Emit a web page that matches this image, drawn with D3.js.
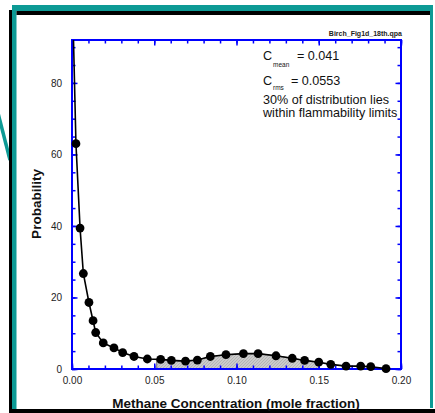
<!DOCTYPE html>
<html>
<head>
<meta charset="utf-8">
<script src="https://cdn.jsdelivr.net/npm/d3@7"></script>
<style>
  body { margin: 0; background: #fff; }
  svg { display: block; font-family: "Liberation Sans", Arial, sans-serif; }
</style>
</head>
<body>
<div id="chart"></div>
<script>
// methane concentration (mole fraction) and probability
var conc = [0.0005, 0.0024, 0.0049, 0.0069, 0.0103, 0.0128, 0.0144, 0.019, 0.0255, 0.0308,
            0.0377, 0.0458, 0.0539, 0.0604, 0.069, 0.0762, 0.0841, 0.0936, 0.1042, 0.1131,
            0.124, 0.1339, 0.1414, 0.15, 0.1573, 0.1666, 0.1755, 0.1816, 0.1909];
var prob = [100, 63.0, 39.4, 26.7, 18.6, 13.5, 10.2, 7.3, 5.9, 4.6,
            3.5, 2.8, 2.7, 2.4, 2.2, 2.5, 3.5, 4.0, 4.3, 4.3,
            3.7, 3.0, 2.4, 1.9, 1.3, 0.8, 0.8, 0.65, 0.1];
var flamLimits = [0.0515, 0.15];
var xTicks = [0, 0.05, 0.10, 0.15, 0.20];
var yTicks = [0, 20, 40, 60, 80];
var xMinor = d3.range(0, 0.2001, 0.01);
var yMinor = d3.range(0, 91, 5);
var notes = ["30% of distribution lies", "within flammability limits"];

var W = 435, H = 413;
var teal = "#0d9a95", blue = "#0000ff";
var m = {left: 72, right: 401, top: 40, bottom: 369};

var svg = d3.select("#chart").append("svg").attr("width", W).attr("height", H);

// slide frame
svg.append("line").attr("x1", -2).attr("y1", 113).attr("x2", 10).attr("y2", 160)
   .style("stroke", teal).style("stroke-width", 3.5);
svg.append("rect").attr("x", 9).attr("y", 10).attr("width", 3).attr("height", 403).attr("fill", "#000");
svg.append("rect").attr("x", 12).attr("y", 5).attr("width", 421).attr("height", 6).attr("fill", teal);
svg.append("rect").attr("x", 12).attr("y", 5).attr("width", 4.5).attr("height", 408).attr("fill", teal);
svg.append("rect").attr("x", 16.5).attr("y", 11).attr("width", 414).attr("height", 4).attr("fill", "#000");
svg.append("rect").attr("x", 430).attr("y", 5).attr("width", 3).attr("height", 403).attr("fill", teal);
svg.append("rect").attr("x", 9).attr("y", 409).attr("width", 426).attr("height", 4).attr("fill", "#000");

var x = d3.scaleLinear().domain([0, 0.2]).range([m.left, m.right]);
var y = d3.scaleLinear().domain([0, 92]).range([m.bottom, m.top]);

var defs = svg.append("defs");
defs.append("clipPath").attr("id", "clip").append("rect")
    .attr("x", m.left).attr("y", m.top).attr("width", m.right - m.left).attr("height", m.bottom - m.top);
var pat = defs.append("pattern").attr("id", "hatch").attr("patternUnits", "userSpaceOnUse")
    .attr("width", 3).attr("height", 3);
pat.append("rect").attr("width", 3).attr("height", 3).attr("fill", "#cbcbcb");
pat.append("path").attr("d", "M0,3 L3,0 M-1,1 L1,-1 M2,4 L4,2").style("stroke", "#a4a4a4").style("stroke-width", 0.6);

var pts = conc.map(function(c, i){ return [c, prob[i]]; });

// shaded area between the flammability limits
function interp(c){
  for (var i = 0; i < pts.length - 1; i++){
    if (pts[i][0] <= c && pts[i+1][0] >= c){
      var t = (c - pts[i][0]) / (pts[i+1][0] - pts[i][0]);
      return pts[i][1] + t * (pts[i+1][1] - pts[i][1]);
    }
  }
  return 0;
}
var areaPts = [[flamLimits[0], interp(flamLimits[0])]]
  .concat(pts.filter(function(p){ return p[0] > flamLimits[0] && p[0] < flamLimits[1]; }))
  .concat([[flamLimits[1], interp(flamLimits[1])]]);
svg.append("path")
   .datum(areaPts)
   .attr("d", d3.area().x(function(d){ return x(d[0]); }).y0(y(0)).y1(function(d){ return y(d[1]); }))
   .attr("fill", "url(#hatch)")
   .style("stroke", "#555").style("stroke-width", 0.8);

// axes, ticks inside on all four sides
function styleAxis(g){
  g.select(".domain").remove();
  g.selectAll(".tick line").style("stroke", blue).style("stroke-width", 1.5);
  g.selectAll(".tick text").style("fill", "#222").style("font-size", "10px")
   .style("font-family", "'Liberation Sans', Arial, sans-serif");
}
var fmtX = d3.format(".2f");
svg.append("g").attr("transform", "translate(0," + m.bottom + ")")
   .call(d3.axisBottom(x).tickValues(xMinor).tickSizeInner(-3.5).tickSizeOuter(0).tickFormat("")).call(styleAxis);
svg.append("g").attr("transform", "translate(0," + m.bottom + ")")
   .call(d3.axisBottom(x).tickValues(xTicks).tickSizeInner(-5.5).tickSizeOuter(0).tickPadding(8).tickFormat(fmtX)).call(styleAxis);
svg.append("g").attr("transform", "translate(0," + m.top + ")")
   .call(d3.axisTop(x).tickValues(xMinor).tickSizeInner(-3.5).tickSizeOuter(0).tickFormat("")).call(styleAxis);
svg.append("g").attr("transform", "translate(0," + m.top + ")")
   .call(d3.axisTop(x).tickValues(xTicks).tickSizeInner(-5.5).tickSizeOuter(0).tickFormat("")).call(styleAxis);
svg.append("g").attr("transform", "translate(" + m.left + ",0)")
   .call(d3.axisLeft(y).tickValues(yMinor).tickSizeInner(-3.5).tickSizeOuter(0).tickFormat("")).call(styleAxis);
svg.append("g").attr("transform", "translate(" + m.left + ",0)")
   .call(d3.axisLeft(y).tickValues(yTicks).tickSizeInner(-5.5).tickSizeOuter(0).tickPadding(10).tickFormat(d3.format("d"))).call(styleAxis);
svg.append("g").attr("transform", "translate(" + m.right + ",0)")
   .call(d3.axisRight(y).tickValues(yMinor).tickSizeInner(-3.5).tickSizeOuter(0).tickFormat("")).call(styleAxis);
svg.append("g").attr("transform", "translate(" + m.right + ",0)")
   .call(d3.axisRight(y).tickValues(yTicks).tickSizeInner(-5.5).tickSizeOuter(0).tickFormat("")).call(styleAxis);

svg.append("rect").attr("x", m.left).attr("y", m.top)
   .attr("width", m.right - m.left).attr("height", m.bottom - m.top)
   .attr("fill", "none").style("stroke", blue).style("stroke-width", 2);

// curve and markers
var plot = svg.append("g").attr("clip-path", "url(#clip)");
plot.append("path")
    .datum(pts)
    .attr("d", d3.line().x(function(d){ return x(d[0]); }).y(function(d){ return y(d[1]); }))
    .attr("fill", "none").style("stroke", "#000").style("stroke-width", 1.6);
svg.selectAll(".dot")
   .data(pts.filter(function(p){ return p[1] <= 92; }))
   .enter().append("circle")
   .attr("class", "dot")
   .attr("cx", function(d){ return x(d[0]); })
   .attr("cy", function(d){ return y(d[1]); })
   .attr("r", 4.4)
   .attr("fill", "#000");

// labels
svg.append("text").attr("x", 236).attr("y", 408).attr("text-anchor", "middle")
   .style("font-weight", "bold").style("font-size", "13.5px").attr("fill", "#111")
   .text("Methane Concentration (mole fraction)");
svg.append("text").attr("transform", "translate(41,204) rotate(-90)").attr("text-anchor", "middle")
   .style("font-weight", "bold").style("font-size", "13.5px").attr("fill", "#111")
   .text("Probability");
svg.append("text").attr("x", 402).attr("y", 35.5).attr("text-anchor", "end")
   .style("font-weight", "bold").style("font-size", "7px").attr("fill", "#222")
   .text("Birch_Fig1d_18th.qpa");

var ann = svg.append("g").attr("fill", "#111").style("font-size", "12.6px");
ann.append("text").attr("x", 263).attr("y", 60).text("C");
ann.append("text").attr("x", 273).attr("y", 67).style("font-size", "6.5px").text("mean");
ann.append("text").attr("x", 297).attr("y", 60).text("= 0.041");
ann.append("text").attr("x", 263).attr("y", 84.5).text("C");
ann.append("text").attr("x", 273).attr("y", 90).style("font-size", "6.5px").text("rms");
ann.append("text").attr("x", 291).attr("y", 84.5).text("= 0.0553");
ann.selectAll(".note").data(notes).enter().append("text")
   .attr("class", "note")
   .attr("x", 263)
   .attr("y", function(d, i){ return 104 + i * 13; })
   .text(function(d){ return d; });
</script>
</body>
</html>
